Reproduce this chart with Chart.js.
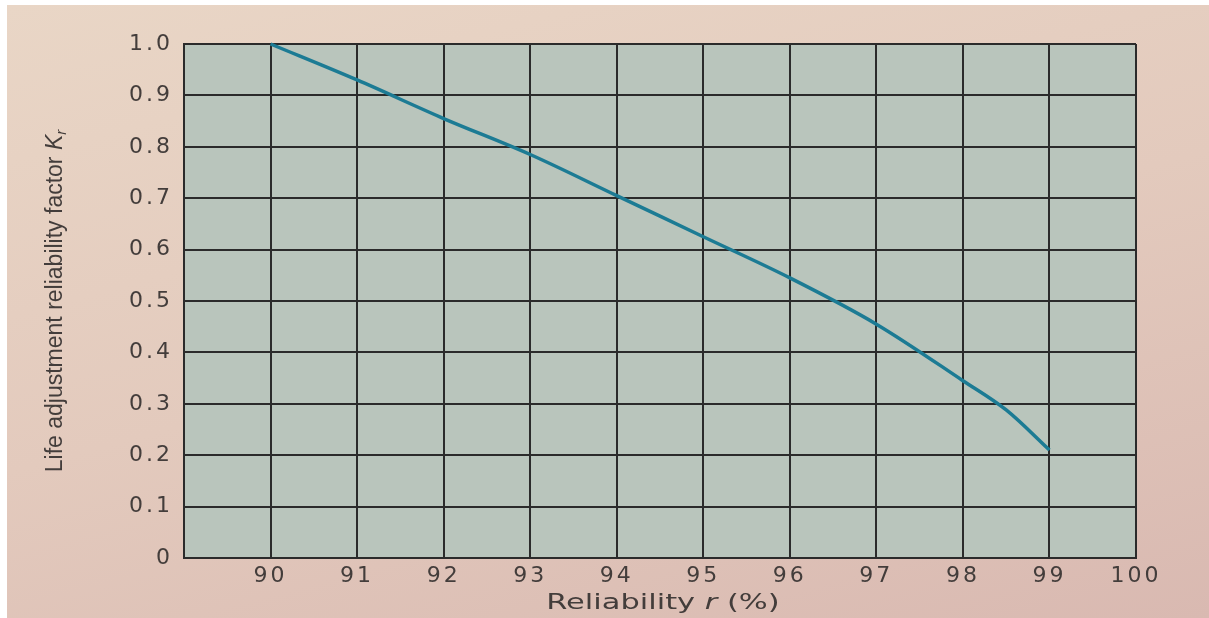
<!DOCTYPE html>
<html>
<head>
<meta charset="utf-8">
<script src="https://cdn.jsdelivr.net/npm/chart.js@4.4.1/dist/chart.umd.min.js"></script>
<style>
  body { margin: 0; background: #fff; }
  #paper {
    position: absolute; left: 7px; top: 5px; width: 1202px; height: 613px;
    background: linear-gradient(165deg, #e9d6c6 0%, #e3cabd 50%, #d9b9b1 100%);
  }
  #chart { position: absolute; left: 0; top: 0; }
</style>
</head>
<body>
<div id="paper"></div>
<canvas id="chart" width="1209" height="618"></canvas>
<script>
// values
const reliability = [90, 91, 92, 93, 94, 95, 96, 97, 98, 98.5, 99];
const kFactor = [1.00, 0.93, 0.855, 0.785, 0.705, 0.625, 0.545, 0.455, 0.345, 0.288, 0.21];

const xLabels = ['', '90', '91', '92', '93', '94', '95', '96', '97', '98', '99', '100'];
const yLabels = ['0', '0.1', '0.2', '0.3', '0.4', '0.5', '0.6', '0.7', '0.8', '0.9', '1.0'];

const ink = '#2b2b2b';
const labelColor = '#433d3b';

// grey-green fill behind the grid
const plotFill = {
  id: 'plotFill',
  afterInit(chart) {
    chart.ctx.letterSpacing = '3px';
  },
  beforeDraw(chart) {
    const a = chart.chartArea;
    const ctx = chart.ctx;
    ctx.save();
    ctx.fillStyle = '#b9c5bc';
    ctx.fillRect(a.left, a.top, a.right - a.left, a.bottom - a.top);
    ctx.restore();
  }
};

function drawParts(ctx, parts) {
  let total = 0;
  parts.forEach(p => { ctx.font = p[0]; total += ctx.measureText(p[1]).width; });
  let x = -total / 2;
  ctx.textAlign = 'left';
  parts.forEach(p => {
    ctx.font = p[0];
    ctx.fillText(p[1], x, p[2]);
    x += ctx.measureText(p[1]).width;
  });
}

// axis titles with italic symbols
const axisTitles = {
  id: 'axisTitles',
  afterDraw(chart) {
    const ctx = chart.ctx;
    const a = chart.chartArea;
    ctx.save();
    ctx.letterSpacing = '0px';
    ctx.fillStyle = labelColor;
    ctx.textBaseline = 'middle';
    ctx.translate(56, (a.top + a.bottom) / 2);
    ctx.rotate(-Math.PI / 2);
    drawParts(ctx, [
      ['23px "Liberation Sans"', 'Life adjustment reliability factor ', 0],
      ['italic 23px "Liberation Sans"', 'K', 0],
      ['italic 15px "Liberation Sans"', 'r', 6]
    ]);
    ctx.restore();

    ctx.save();
    ctx.letterSpacing = '0px';
    ctx.fillStyle = labelColor;
    ctx.textBaseline = 'middle';
    ctx.translate((a.left + a.right) / 2 + 3, 604);
    ctx.scale(1.45, 1);
    drawParts(ctx, [
      ['21px "DejaVu Sans"', 'Reliability ', 0],
      ['italic 21px "DejaVu Sans"', 'r', 0],
      ['21px "DejaVu Sans"', ' (%)', 0]
    ]);
    ctx.restore();
  }
};

new Chart(document.getElementById('chart'), {
  type: 'line',
  data: {
    datasets: [{
      data: reliability.map((r, i) => ({ x: r, y: kFactor[i] })),
      borderColor: '#1c7b94',
      borderWidth: 3.5,
      pointRadius: 0,
      fill: false,
      cubicInterpolationMode: 'monotone',
      clip: 4
    }]
  },
  options: {
    responsive: false,
    animation: false,
    devicePixelRatio: 1,
    layout: { padding: { top: 44, right: 73, bottom: 0, left: 0 } },
    plugins: {
      legend: { display: false },
      tooltip: { enabled: false }
    },
    scales: {
      x: {
        type: 'linear',
        min: 89,
        max: 100,
        afterFit: scale => { scale.height = 60; },
        grid: { color: ink, lineWidth: 2, drawTicks: false },
        border: { color: ink, width: 2 },
        ticks: {
          stepSize: 1,
          autoSkip: false,
          maxRotation: 0,
          padding: 5,
          color: labelColor,
          font: { family: 'DejaVu Sans', size: 22 },
          callback: (v, i) => xLabels[i]
        }
      },
      y: {
        min: 0,
        max: 1,
        afterFit: scale => { scale.width = 184; },
        grid: { color: ink, lineWidth: 2, drawTicks: false },
        border: { color: ink, width: 2 },
        ticks: {
          stepSize: 0.1,
          padding: 11,
          color: labelColor,
          font: { family: 'DejaVu Sans', size: 22 },
          callback: (v, i) => yLabels[i]
        }
      }
    }
  },
  plugins: [plotFill, axisTitles]
});
</script>
</body>
</html>
